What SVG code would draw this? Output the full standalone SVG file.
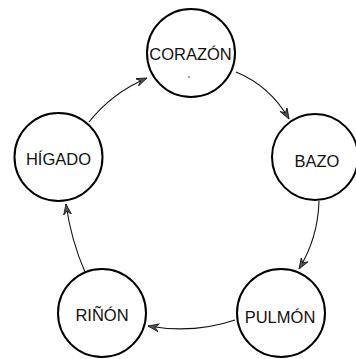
<svg xmlns="http://www.w3.org/2000/svg" width="356" height="359" viewBox="0 0 356 359">
<style>
.node circle{fill:#fff;stroke:#000;stroke-width:2}
.node text{font-family:"Liberation Sans",Arial,sans-serif;font-size:16.5px;fill:#111;text-anchor:middle}
.edge{fill:none;stroke:#111;stroke-width:1.1}
</style>
<defs>
<marker id="ah" markerUnits="userSpaceOnUse" markerWidth="14" markerHeight="10" refX="11" refY="4" orient="auto" viewBox="0 0 14 10">
<path d="M11,4 L0,0 L4,4 L0,8 Z" fill="#555" stroke="#111" stroke-width="0.8" stroke-linejoin="miter"/>
</marker>
</defs>
<rect width="356" height="359" fill="#fff"/>
<g id="connectors">
<path class="edge" d="M89,122 Q112,93 147,78" marker-end="url(#ah)"/>
<path class="edge" d="M236,72 Q270,86 289,119" marker-end="url(#ah)"/>
<path class="edge" d="M319,201 Q318,238 299,269" marker-end="url(#ah)"/>
<path class="edge" d="M235,320 Q194,334 148,326" marker-end="url(#ah)"/>
<path class="edge" d="M85,272 Q71,240 66,204" marker-end="url(#ah)"/>
</g>
<g id="corazon" class="node"><circle cx="191" cy="53" r="44"/><text x="190.5" y="60">CORAZÓN</text><circle cx="189" cy="77" r="0.8" style="fill:#333;stroke:none"/></g>
<g id="bazo" class="node"><circle cx="315" cy="157" r="43"/><text x="317" y="167">BAZO</text></g>
<g id="pulmon" class="node"><circle cx="281" cy="313" r="44"/><text x="280" y="323">PULMÓN</text></g>
<g id="rinon" class="node"><circle cx="102" cy="313" r="44"/><text x="102" y="321">RIÑÓN</text></g>
<g id="higado" class="node"><circle cx="58.5" cy="157" r="44"/><text x="58.5" y="165">HÍGADO</text></g>
</svg>
